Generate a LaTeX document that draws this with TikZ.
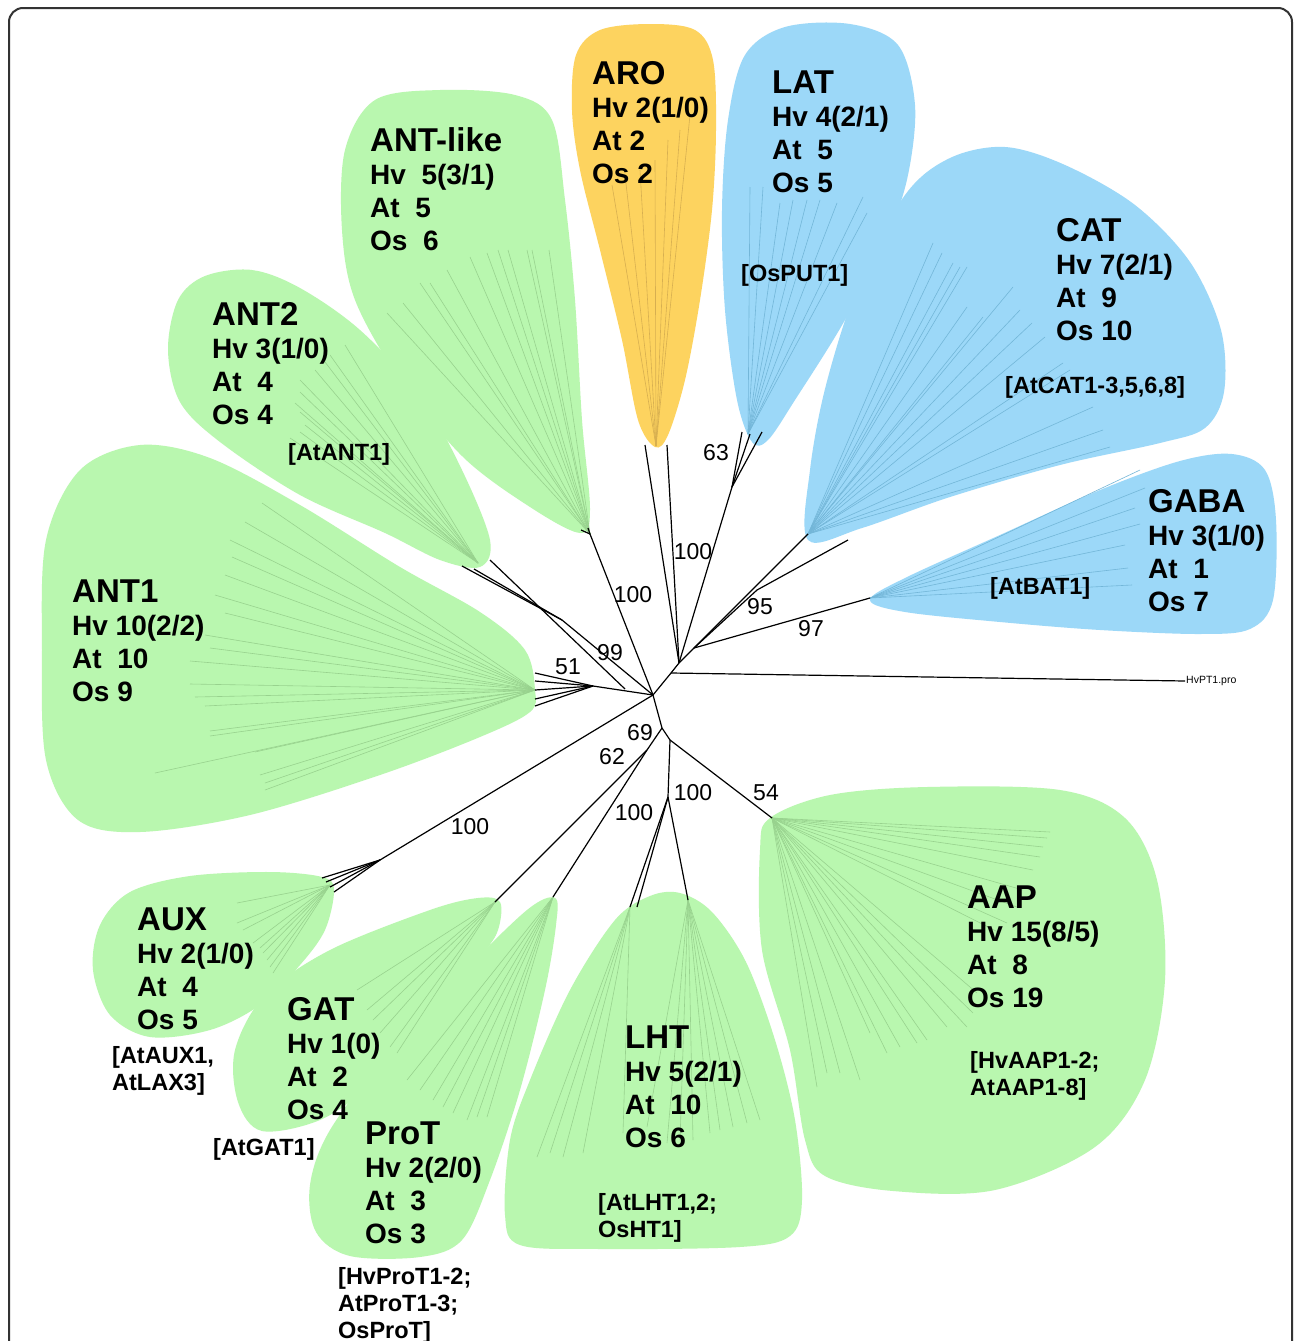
\documentclass[tikz,border=0pt]{standalone}
\usepackage{fontspec}
\setmainfont{Liberation Sans}
\definecolor{cgreen}{RGB}{185,247,175}
\definecolor{cblue}{RGB}{156,216,248}
\definecolor{corange}{RGB}{253,211,95}
\definecolor{lgreen}{RGB}{152,210,142}
\definecolor{lblue}{RGB}{115,182,216}
\definecolor{lorange}{RGB}{215,175,80}
\tikzset{
 ttl/.style={anchor=base west, inner sep=0pt, font=\fontsize{33}{33}\selectfont\bfseries},
 sub/.style={anchor=base west, inner sep=0pt, font=\fontsize{28}{28}\selectfont\bfseries},
 brk/.style={anchor=base west, inner sep=0pt, font=\fontsize{23.5}{24}\selectfont\bfseries},
 bsv/.style={inner sep=0pt, font=\fontsize{23}{23}\selectfont},
 br/.style={line width=1.2pt, black},
 lfg/.style={line width=0.6pt, lgreen},
 lfb/.style={line width=0.6pt, lblue},
 lfo/.style={line width=0.6pt, lorange},
 blob/.style={smooth cycle, tension=0.55},
}
\newcommand\cladelbl[7]{%
 \node[ttl] (#1) at ({#2},{#3}) {#4};
 \node[sub] (#1a) at ({#2},{#3+33}) {#5};
 \node[sub] (#1b) at ({#2},{#3+66}) {#6};
 \node[sub] (#1c) at ({#2},{#3+99}) {#7};
}
\begin{document}
\begin{tikzpicture}[x=1pt,y=-1pt]
\useasboundingbox (0,0) rectangle (1293,1341);
\clip (0,0) rectangle (1293,1341);
\fill[white] (0,0) rectangle (1293,1341);
\draw[line width=2pt, black!80, rounded corners=14pt] (9,8) rectangle (1292,1390);

% ---------- blobs ----------
\fill[corange] plot[blob] coordinates {(655,447) (638,420) (622,340) (600,250) (580,170) (572,110) (576,55) (600,30) (650,24) (695,30) (713,60) (716,130) (712,210) (700,300) (685,380) (668,435)};
\fill[cblue] plot[blob] coordinates {(752,442) (737,400) (725,310) (722,210) (728,120) (745,55) (785,27) (850,24) (898,45) (915,105) (908,175) (888,235) (845,320) (795,400) (768,440)};
\fill[cblue] plot[blob] coordinates {(808,540) (810,470) (826,385) (858,285) (905,195) (950,158) (1005,147) (1065,165) (1135,205) (1190,262) (1221,330) (1224,392) (1205,428) (1160,443) (1060,465) (950,497) (862,528)};
\fill[cblue] plot[blob] coordinates {(870,600) (905,578) (1000,535) (1100,490) (1180,461) (1232,454) (1265,470) (1276,520) (1273,600) (1250,629) (1200,634) (1100,630) (1000,622) (905,612)};
\fill[cgreen] plot[blob] coordinates {(580,533) (530,507) (463,457) (400,380) (355,300) (342,230) (345,150) (375,100) (440,90) (515,95) (552,120) (565,200) (575,300) (582,420) (590,510)};
\fill[cgreen] plot[blob] coordinates {(480,567) (440,560) (385,533) (300,495) (220,442) (180,402) (168,350) (178,300) (205,276) (252,270) (300,288) (360,330) (420,395) (462,470) (490,540)};
\fill[cgreen] plot[blob] coordinates {(535,690) (525,650) (480,612) (400,567) (300,505) (210,458) (140,445) (80,470) (46,540) (42,650) (46,760) (78,820) (140,832) (250,815) (380,775) (480,737) (530,712)};
\fill[cgreen] plot[blob] coordinates {(334,890) (325,930) (300,965) (260,1005) (210,1030) (150,1037) (110,1015) (93,970) (100,925) (130,892) (190,876) (270,872) (322,877)};
\fill[cgreen] plot[blob] coordinates {(500,902) (498,930) (482,955) (430,1020) (370,1085) (320,1120) (262,1131) (238,1102) (235,1050) (265,995) (330,950) (430,910) (478,898)};
\fill[cgreen] plot[blob] coordinates {(555,898) (556,925) (545,990) (520,1090) (490,1180) (462,1240) (420,1257) (350,1256) (316,1232) (310,1185) (330,1130) (390,1050) (460,975) (527,910)};
\fill[cgreen] plot[blob] coordinates {(680,893) (712,912) (746,962) (775,1040) (795,1120) (802,1200) (790,1236) (740,1247) (600,1249) (520,1245) (505,1215) (510,1140) (530,1080) (570,990) (615,920) (650,896)};
\fill[cgreen] plot[blob] coordinates {(770,818) (830,795) (927,787) (1060,790) (1125,818) (1157,880) (1165,980) (1145,1080) (1095,1147) (995,1190) (893,1191) (825,1176) (805,1140) (790,1050) (762,950) (760,850)};

% ---------- tree nodes ----------
\coordinate (A) at (653,695);
\coordinate (B) at (671,673);
\coordinate (C) at (679,663);
\coordinate (D) at (694,648);
\coordinate (E) at (757,590);
\coordinate (Gab) at (870,598);
\coordinate (Cat1) at (808,534);
\coordinate (Cat2) at (848,540);
\coordinate (F) at (732,487);
\coordinate (Lt1) at (742,432);
\coordinate (Lt2) at (750,434);
\coordinate (Lt3) at (762,432);
\coordinate (Ar1) at (645,445);
\coordinate (Ar2) at (667,445);
\coordinate (PT) at (1185,681);
\coordinate (Antl) at (590,534);
\coordinate (Al1) at (581,530);
\coordinate (Al2) at (588,528);
\coordinate (H) at (562,620);
\coordinate (H1) at (462,566);
\coordinate (H2) at (474,569);
\coordinate (P) at (625,689);
\coordinate (P1) at (490,560);
\coordinate (I) at (593,686);
\coordinate (J) at (662,728);
\coordinate (K) at (647,750);
\coordinate (Gat) at (495,902);
\coordinate (Pro) at (553,897);
\coordinate (L) at (670,740);
\coordinate (M) at (668,797);
\coordinate (Lh1) at (630,907);
\coordinate (Lh2) at (637,907);
\coordinate (Lh3) at (688,900);
\coordinate (Aap) at (772,818);
\coordinate (Aux) at (380,860);
\coordinate (Aro) at (656,446);
\coordinate (Lat) at (748,434);
\coordinate (An2) at (478,563);
\coordinate (An1) at (535,690);
\coordinate (AuxS) at (330,885);

% ---------- leaf lines ----------
\foreach \p in {(612,185),(625,175),(640,170),(655,160),(668,140),(680,130),(690,115)} \draw[lfo] (Aro) -- \p;
\foreach \p in {(750,187),(763,187),(780,203),(793,200),(807,200),(820,200),(837,203),(863,197),(867,213)} \draw[lfb] (Lat) -- \p;
\foreach \p in {(933,243),(942,253),(953,263),(960,267),(967,267),(967,307),(983,317),(1013,287),(1020,310),(1032,323),(1045,337),(1063,363),(1070,370),(1093,407),(1103,430),(1110,447)} \draw[lfb] (Cat1) -- \p;
\foreach \p in {(1140,470),(1145,488),(1135,508),(1140,524),(1125,545),(1128,568),(1132,585)} \draw[lfb] (Gab) -- \p;
\foreach \p in {(549,250),(532,250),(527,250),(508,250),(498,250),(487,253),(470,257),(447,270),(430,283),(420,283),(403,303),(387,313)} \draw[lfg] (Antl) -- \p;
\foreach \p in {(345,345),(330,355),(325,362),(315,370),(300,380),(300,392),(295,403),(300,412),(305,425),(300,432),(290,438)} \draw[lfg] (An2) -- \p;
\foreach \p in {(262,503),(245,522),(230,540),(232,557),(225,575),(215,595),(225,613),(205,635),(210,648),(190,661),(190,684),(195,697),(205,706),(210,731),(210,736),(255,752),(155,773),(260,775),(265,783),(265,790)} \draw[lfg] (An1) -- \p;
\foreach \p in {(237,903),(237,923),(243,930),(253,943),(260,948),(263,953),(267,960),(270,967),(273,973)} \draw[lfg] (AuxS) -- \p;
\foreach \p in {(357,990),(367,1010),(373,1020),(380,1033),(390,1047),(397,1053)} \draw[lfg] (Gat) -- \p;
\foreach \p in {(407,1080),(420,1090),(433,1100),(443,1107),(453,1113),(467,1120),(477,1117),(487,1117)} \draw[lfg] (Pro) -- \p;
\foreach \p in {(537,1157),(550,1153),(563,1157),(583,1153),(623,1133)} \draw[lfg] (Lh1) -- \p;
\foreach \p in {(647,1127),(667,1143),(680,1140),(693,1140),(710,1133),(720,1130),(733,1127),(747,1123),(760,1120)} \draw[lfg] (Lh3) -- \p;
\foreach \p in {(1050,832),(1047,838),(1043,847),(1040,857),(1033,870),(1023,890),(1017,907),(1007,923),(1000,933),(977,993),(973,1013),(967,1027),(947,1027),(927,1040),(917,1043),(900,1047),(887,1053),(870,1033),(860,1080),(840,1073),(827,1073),(817,1087)} \draw[lfg] (Aap) -- \p;

% ---------- branches ----------
\draw[br] (A) -- (B) -- (C) -- (D) -- (E) -- (Cat2);
\draw[br] (D) -- (Cat1);
\draw[br] (D) -- (Gab);
\draw[br] (B) -- (PT);
\draw[br] (C) -- (F);
\draw[br] (F) -- (Lt1);
\draw[br] (F) -- (Lt2);
\draw[br] (F) -- (Lt3);
\draw[br] (C) -- (Ar1);
\draw[br] (C) -- (Ar2);
\draw[br] (A) -- (Antl);
\draw[br] (Antl) -- (Al1);
\draw[br] (Antl) -- (Al2);
\draw[br] (A) -- (H);
\draw[br] (H) -- (H1);
\draw[br] (H) -- (H2);
\draw[br] (P) -- (P1);
\draw[br] (A) -- (I);
\foreach \yy in {673,681,690,699,706} \draw[br] (I) -- (535,\yy);
\draw[br] (A) -- (Aux);
\foreach \p in {(322,878),(326,882),(330,887),(334,892)} \draw[br] (Aux) -- \p;
\draw[br] (A) -- (J) -- (K);
\draw[br] (K) -- (Gat);
\draw[br] (K) -- (Pro);
\draw[br] (J) -- (L) -- (M);
\draw[br] (M) -- (Lh1);
\draw[br] (M) -- (Lh2);
\draw[br] (M) -- (Lh3);
\draw[br] (L) -- (Aap);

% ---------- support values ----------
\node[bsv] (s63) at (716,453) {63};
\node[bsv] (s100a) at (693,552) {100};
\node[bsv] (s100b) at (633,595) {100};
\node[bsv] (s99) at (610,653) {99};
\node[bsv] (s51) at (568,667) {51};
\node[bsv] (s95) at (760,607) {95};
\node[bsv] (s97) at (811,629) {97};
\node[bsv] (s69) at (640,733) {69};
\node[bsv] (s62) at (612,757) {62};
\node[bsv] (s100c) at (470,827) {100};
\node[bsv] (s100d) at (634,813) {100};
\node[bsv] (s100e) at (693,793) {100};
\node[bsv] (s54) at (766,793) {54};
\node[anchor=west, inner sep=1pt, font=\fontsize{10.5}{11}\selectfont] (hvpt) at (PT) {HvPT1.pro};

% ---------- clade labels ----------
\cladelbl{aro}{592}{84}{ARO}{Hv 2(1/0)}{At 2}{Os 2}
\cladelbl{lat}{772}{93}{LAT}{Hv 4(2/1)}{At\ \ 5}{Os 5}
\cladelbl{antl}{370}{151}{ANT-like}{Hv\ \ 5(3/1)}{At\ \ 5}{Os\ \ 6}
\cladelbl{ant2}{212}{325}{ANT2}{Hv 3(1/0)}{At\ \ 4}{Os 4}
\cladelbl{cat}{1056}{241}{CAT}{Hv 7(2/1)}{At\ \ 9}{Os 10}
\cladelbl{gaba}{1148}{512}{GABA}{Hv 3(1/0)}{At\ \ 1}{Os 7}
\cladelbl{ant1}{72}{602}{ANT1}{Hv 10(2/2)}{At\ \ 10}{Os 9}
\cladelbl{aux}{137}{930}{AUX}{Hv 2(1/0)}{At\ \ 4}{Os 5}
\cladelbl{gat}{287}{1020}{GAT}{Hv 1(0)}{At\ \ 2}{Os 4}
\cladelbl{prot}{365}{1144}{ProT}{Hv 2(2/0)}{At\ \ 3}{Os 3}
\cladelbl{lht}{625}{1048}{LHT}{Hv 5(2/1)}{At\ \ 10}{Os 6}
\cladelbl{aap}{967}{908}{AAP}{Hv 15(8/5)}{At\ \ 8}{Os 19}

\node[brk] (bput) at (741,281) {[OsPUT1]};
\node[brk] (bant) at (288,460) {[AtANT1]};
\node[brk] (bcat) at (1005,393) {[AtCAT1-3,5,6,8]};
\node[brk] (bbat) at (990,594) {[AtBAT1]};
\node[brk] (baux1) at (112,1063) {[AtAUX1,};
\node[brk] (baux2) at (112,1090) {AtLAX3]};
\node[brk] (bgat) at (213,1155) {[AtGAT1]};
\node[brk] (bpro1) at (338,1284) {[HvProT1-2;};
\node[brk] (bpro2) at (338,1311) {AtProT1-3;};
\node[brk] (bpro3) at (338,1338) {OsProT]};
\node[brk] (blht1) at (598,1210) {[AtLHT1,2;};
\node[brk] (blht2) at (598,1237) {OsHT1]};
\node[brk] (baap1) at (970,1068) {[HvAAP1-2;};
\node[brk] (baap2) at (970,1095) {AtAAP1-8]};
\end{tikzpicture}
\end{document}
